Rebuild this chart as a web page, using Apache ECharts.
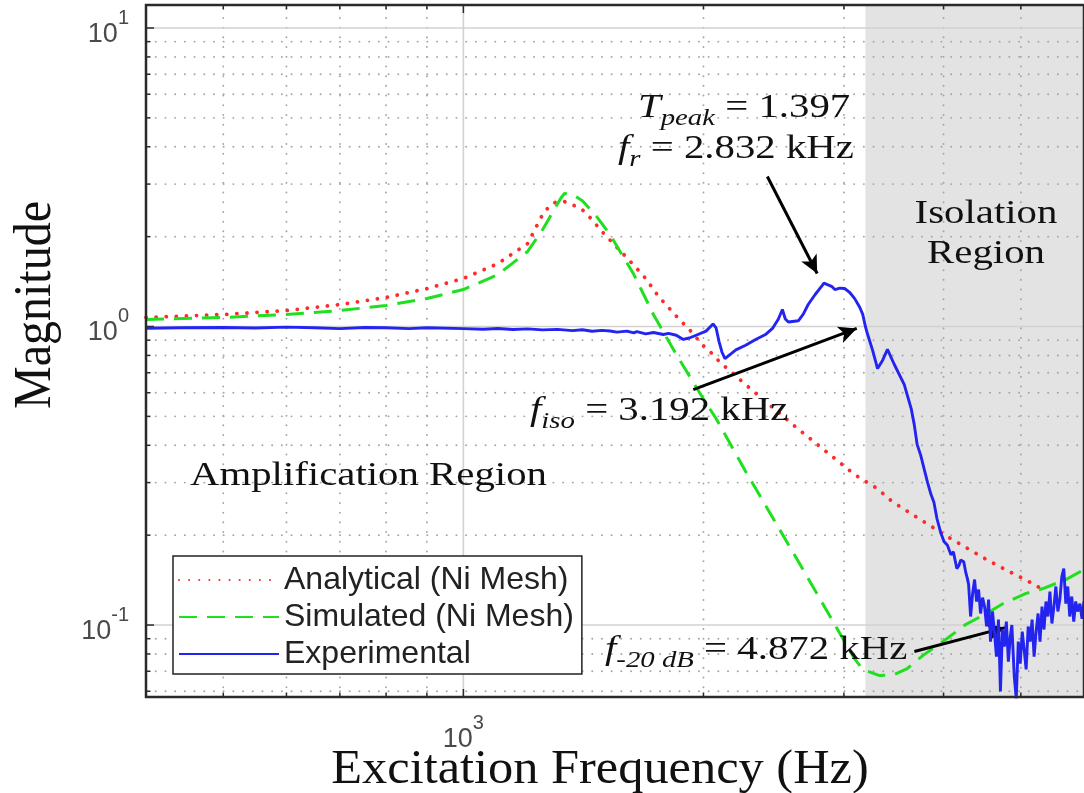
<!DOCTYPE html>
<html>
<head>
<meta charset="utf-8">
<title>Transmissibility of the Ni mesh isolator</title>
<script src="https://cdn.jsdelivr.net/npm/echarts@6/dist/echarts.min.js"></script>
<style>
  html, body { margin: 0; padding: 0; background: #fff; }
  #chart { width: 1084px; height: 793px; }
</style>
</head>
<body>
<div id="chart"></div>
<script>
// ---- axis limits (Hz, magnitude) ----
const X_MIN = 400, X_MAX = 6000;
const Y_MIN = 0.0574, Y_MAX = 11.94;

// ---- key frequencies ----
const F_R = 2832, T_PEAK = 1.397;
const F_ISO = 3192;
const F_20DB = 4872;

// ---- grid positions ----
const xMajor = [1000];
const xMinor = [500, 600, 700, 800, 900, 2000, 3000, 4000, 5000];
const yMajor = [0.1, 1, 10];
const yMinor = [0.06, 0.07, 0.08, 0.09, 0.2, 0.3, 0.4, 0.5, 0.6, 0.7, 0.8, 0.9,
                2, 3, 4, 5, 6, 7, 8, 9];

// ---- Analytical (Ni Mesh) ----
const freqAnalytical = [400, 500, 600, 700, 800, 900, 1000, 1105, 1204, 1257, 1286, 1312,
  1339, 1370, 1410, 1450, 1492, 1558, 1603, 1650, 1693, 1757, 1808, 1865, 1920, 1998,
  2056, 2104, 2165, 2215, 2273, 2607, 3095, 3300, 3450, 3643, 3846, 4063, 4289, 4527,
  4780, 5062, 5195, 5330];
const magAnalytical = [1.072, 1.097, 1.131, 1.185, 1.251, 1.340, 1.448, 1.626, 1.897, 2.372, 2.56, 2.623,
  2.62, 2.56, 2.46, 2.28, 2.08, 1.84, 1.70, 1.564, 1.448, 1.26, 1.158, 1.056, 0.977, 0.864,
  0.806, 0.752, 0.707, 0.669, 0.630, 0.462, 0.319, 0.287, 0.259, 0.236, 0.2154, 0.1964, 0.1804, 0.1658,
  0.1534, 0.142, 0.1367, 0.1314];

// ---- Simulated (Ni Mesh) ----
const freqSimulated = [400, 500, 600, 700, 800, 900, 1000, 1105, 1204, 1257, 1299, 1326, 1339,
  1370, 1410, 1470, 1527, 1636, 1731, 1849, 1998, 2074, 2259, 2607, 3008, 3095, 3167, 3325,
  3470, 3602, 3781, 4040, 4264, 4527, 4753, 5077, 5330, 5693, 6000];
const magSimulated = [1.056, 1.072, 1.097, 1.131, 1.176, 1.241, 1.330, 1.493, 1.784, 2.11, 2.46, 2.70, 2.79,
  2.77, 2.64, 2.33, 2.033, 1.493, 1.097, 0.806, 0.574, 0.492, 0.327, 0.170, 0.0877, 0.0770, 0.0710, 0.0677,
  0.0683, 0.0715, 0.0796, 0.0901, 0.1004, 0.1093, 0.1180, 0.1276, 0.1325, 0.1420, 0.1534];

// ---- Experimental ----
const freqExperimental = [400, 443, 500, 548, 600, 651, 700, 751, 800, 855, 900, 1000, 1059, 1105,
  1154, 1204, 1257, 1312, 1370, 1410, 1450, 1492, 1527, 1558, 1603, 1636, 1650, 1693, 1731, 1782,
  1808, 1849, 1887, 1920, 1958, 2015, 2056, 2074, 2092, 2110, 2128, 2165, 2196, 2259, 2325, 2392,
  2441, 2483, 2512, 2533, 2556, 2630, 2668, 2706, 2761, 2817, 2832, 2899, 2923, 2965, 3008, 3051,
  3095, 3140, 3167, 3192, 3213, 3260, 3306, 3354, 3402, 3470, 3571, 3643, 3675, 3706, 3745, 3781,
  3820, 3857, 3890, 3925, 3965, 4005, 4045, 4086, 4115, 4156, 4180, 4204, 4240, 4265, 4285,
  4300, 4325, 4350, 4375, 4400, 4426, 4451, 4477, 4503, 4529, 4555, 4581, 4607, 4634, 4660, 4687,
  4714, 4741, 4768, 4795, 4823, 4850, 4872, 4906, 4934, 4963, 4991, 5020, 5048, 5077, 5107, 5136,
  5165, 5195, 5225, 5255, 5285, 5315, 5346, 5376, 5407, 5438, 5469, 5501, 5532, 5564, 5596, 5628,
  5660, 5693, 5725, 5758, 5791, 5825, 5858, 5892, 5930, 5965, 6000];
const magExperimental = [0.987, 0.99, 0.992, 0.989, 0.995, 0.99, 0.984, 0.992, 0.99, 0.984, 0.99, 0.984, 0.979, 0.985,
  0.977, 0.982, 0.974, 0.978, 0.969, 0.975, 0.964, 0.971, 0.966, 0.958, 0.965, 0.952, 0.962, 0.945, 0.955, 0.94,
  0.948, 0.935, 0.905, 0.915, 0.935, 0.965, 1.02, 0.99, 0.89, 0.82, 0.78, 0.81, 0.835, 0.865, 0.905, 0.94,
  0.985, 1.06, 1.14, 1.06, 1.035, 1.045, 1.1, 1.185, 1.28, 1.37, 1.397, 1.36, 1.33, 1.345, 1.34, 1.3,
  1.24, 1.16, 1.10, 1.0, 0.94, 0.83, 0.723, 0.77, 0.838, 0.746, 0.639, 0.531, 0.47, 0.403, 0.37, 0.334,
  0.30, 0.274, 0.258, 0.227, 0.205, 0.1905, 0.185, 0.172, 0.176, 0.1546, 0.158, 0.165, 0.163, 0.150, 0.143,
  0.1367, 0.1068, 0.1275, 0.1420, 0.1199, 0.1315, 0.1093, 0.1236, 0.1153, 0.0989, 0.1217, 0.0880, 0.1110, 0.0937, 0.0784, 0.1043,
  0.0599, 0.0966, 0.0847, 0.1027, 0.0754, 0.0915, 0.1000, 0.0672, 0.0567, 0.0880, 0.0743, 0.0951, 0.0828, 0.0710, 0.0989, 0.0880,
  0.1043, 0.0784, 0.0951, 0.1093, 0.0880, 0.1153, 0.0966, 0.1199, 0.1068, 0.1295, 0.1012, 0.1153, 0.1346, 0.1110, 0.1217, 0.1454,
  0.1546, 0.1180, 0.1346, 0.1068, 0.1246, 0.1027, 0.1199, 0.1110, 0.118, 0.105, 0.12];

// ---- legend / series names ----
const seriesNames = ['Analytical (Ni Mesh)', 'Simulated (Ni Mesh)', 'Experimental'];

const zip = (xs, ys) => xs.map((x, i) => [x, ys[i]]);

const SANS = '"Liberation Sans", Arial, Helvetica, sans-serif';
const SERIF = '"Liberation Serif", "Times New Roman", Times, serif';
const INK = '#111';

// grid lines and inside ticks, placed through the axes' own log scales
function gridSeries(values, dir, major) {
  return {
    type: 'custom',
    name: dir + (major ? '-major' : '-minor'),
    coordinateSystem: 'cartesian2d',
    silent: true,
    clip: false,
    z: 2,
    data: values.map(v => dir === 'x' ? [v, Y_MIN] : [X_MIN, v]),
    renderItem: (params, api) => {
      let a, b;
      if (dir === 'x') {
        const v = api.value(0);
        a = api.coord([v, Y_MIN]); b = api.coord([v, Y_MAX]);
      } else {
        const v = api.value(1);
        a = api.coord([X_MIN, v]); b = api.coord([X_MAX, v]);
      }
      const tick = major ? 8 : 4.5;
      const lineStyle = major
        ? { stroke: '#d2d2d2', lineWidth: 1.6 }
        : { stroke: '#a6a6a6', lineWidth: 1.9, lineDash: [0.1, 9.6], lineCap: 'round' };
      const tickStyle = { stroke: '#2a2a2a', lineWidth: 1.5 };
      const children = [{ type: 'line', shape: { x1: a[0], y1: a[1], x2: b[0], y2: b[1] }, style: lineStyle }];
      if (dir === 'x') {
        children.push({ type: 'line', shape: { x1: a[0], y1: a[1], x2: a[0], y2: a[1] - tick }, style: tickStyle });
        children.push({ type: 'line', shape: { x1: b[0], y1: b[1], x2: b[0], y2: b[1] + tick }, style: tickStyle });
      } else {
        children.push({ type: 'line', shape: { x1: a[0], y1: a[1], x2: a[0] + tick, y2: a[1] }, style: tickStyle });
      }
      return { type: 'group', children };
    }
  };
}

function powerLabel(value) {
  const e = Math.round(Math.log10(value));
  if (Math.abs(Math.log10(value) - e) > 1e-6) return '';
  return '{b|10}{s|' + e + '}';
}
const tickRich = {
  b: { fontFamily: SANS, fontSize: 27, color: '#4a4a4a', lineHeight: 40, verticalAlign: 'bottom' },
  s: { fontFamily: SANS, fontSize: 20, color: '#4a4a4a', lineHeight: 16, verticalAlign: 'top' }
};

const annRich = {
  n: { fontFamily: SERIF, fontSize: 34, lineHeight: 40, verticalAlign: 'top', color: INK },
  i: { fontFamily: SERIF, fontSize: 34, lineHeight: 40, verticalAlign: 'top', fontStyle: 'italic', color: INK },
  sub: { fontFamily: SERIF, fontSize: 24, lineHeight: 20, verticalAlign: 'bottom', fontStyle: 'italic', color: INK }
};
const kHz = f => (f / 1000).toFixed(3) + ' kHz';

function annText(x, y, text, align) {
  return {
    type: 'text', x, y, scaleX: 1.2, z: 100, silent: true,
    style: { text, rich: annRich, fill: INK, font: '34px ' + SERIF,
             align: align || 'left', verticalAlign: 'top',
             textAlign: align || 'left', textVerticalAlign: 'top' }
  };
}

const chart = echarts.init(document.getElementById('chart'), null, { renderer: 'canvas' });

chart.setOption({
  animation: false,
  backgroundColor: '#fff',
  grid: {
    left: 146, top: 5, right: -9, bottom: 96,
    show: true, backgroundColor: 'transparent', borderColor: '#2a2a2a', borderWidth: 2.5, z: 6
  },
  xAxis: {
    type: 'log', logBase: 10, min: X_MIN, max: X_MAX,
    axisLine: { show: false }, axisTick: { show: false }, splitLine: { show: false },
    axisLabel: { formatter: powerLabel, rich: tickRich, margin: 16, showMinLabel: false, showMaxLabel: false }
  },
  yAxis: {
    type: 'log', logBase: 10, min: Y_MIN, max: Y_MAX,
    axisLine: { show: false }, axisTick: { show: false }, splitLine: { show: false },
    axisLabel: { formatter: powerLabel, rich: tickRich, margin: 17, showMinLabel: false, showMaxLabel: false }
  },
  legend: {
    data: seriesNames,
    orient: 'vertical', left: 173, top: 556,
    itemWidth: 100, itemHeight: 28, itemGap: 5,
    padding: [8, 8, 4, 5],
    backgroundColor: '#fff', borderColor: '#222', borderWidth: 1.5,
    itemStyle: { opacity: 0 },
    textStyle: { fontFamily: SANS, fontSize: 32, color: '#222' },
    z: 50
  },
  graphic: [
    annText(638, 91, '{i|T}{sub|peak}{n| = ' + T_PEAK.toFixed(3) + '}'),
    annText(618, 132, '{i|f}{sub|r}{n| = ' + kHz(F_R) + '}'),
    annText(530, 394, '{i|f}{sub|iso}{n| = ' + kHz(F_ISO) + '}'),
    annText(605, 633, '{i|f}{sub|-20 dB}{n| = ' + kHz(F_20DB) + '}'),
    annText(986, 197, '{n|Isolation}', 'center'),
    annText(986, 237, '{n|Region}', 'center'),
    annText(190, 459, '{n|Amplification Region}'),
    {
      type: 'text', x: 600, y: 746, scaleX: 1.05, z: 100, silent: true,
      style: { text: 'Excitation Frequency (Hz)', font: '48px ' + SERIF, fill: INK,
               align: 'center', verticalAlign: 'top', textAlign: 'center', textVerticalAlign: 'top' }
    },
    {
      type: 'text', x: 10, y: 305, rotation: Math.PI / 2, scaleY: 1.1, z: 100, silent: true,
      style: { text: 'Magnitude', font: '48px ' + SERIF, fill: INK,
               align: 'center', verticalAlign: 'top', textAlign: 'center', textVerticalAlign: 'top' }
    }
  ],
  series: [
    {
      name: 'Isolation band', type: 'line', data: [], z: 1, silent: true,
      markArea: { silent: true, itemStyle: { color: '#e3e3e3' },
                  data: [[{ xAxis: F_ISO }, { xAxis: X_MAX }]] }
    },
    gridSeries(xMajor, 'x', true),
    gridSeries(xMinor, 'x', false),
    gridSeries(yMajor, 'y', true),
    gridSeries(yMinor, 'y', false),
    {
      name: seriesNames[0], type: 'line', data: zip(freqAnalytical, magAnalytical),
      showSymbol: false, symbol: 'none', z: 4, color: '#ff2a2a',
      lineStyle: { color: '#ff2a2a', width: 3.8, type: [0.1, 10], cap: 'round' }
    },
    {
      name: seriesNames[1], type: 'line', data: zip(freqSimulated, magSimulated),
      showSymbol: false, symbol: 'none', z: 4, color: '#1fe01f',
      lineStyle: { color: '#1fe01f', width: 3, type: [18, 10] }
    },
    {
      name: seriesNames[2], type: 'line', data: zip(freqExperimental, magExperimental),
      showSymbol: false, symbol: 'none', z: 5, color: '#2424f0',
      lineStyle: { color: '#2424f0', width: 2.9 }
    },
    {
      name: 'Callouts', type: 'line', data: [], z: 8, silent: true,
      markLine: {
        silent: true, symbol: ['none', 'arrow'], symbolSize: [13, 18],
        label: { show: false },
        lineStyle: { color: '#000', width: 3, type: 'solid' },
        data: [
          [{ coord: [2405, 3.18] }, { coord: [2777, 1.505] }],
          [{ coord: [1942, 0.615] }, { coord: [3113, 0.985] }],
          [{ coord: [3677, 0.0815] }, { coord: [4778, 0.098] }]
        ]
      }
    }
  ]
});
</script>
</body>
</html>
